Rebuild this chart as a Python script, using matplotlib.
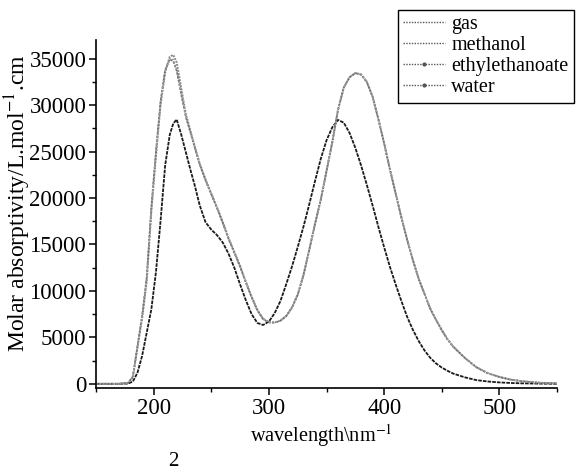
import matplotlib
matplotlib.use("Agg")
import matplotlib.pyplot as plt
from matplotlib.lines import Line2D
from matplotlib.ticker import MultipleLocator

plt.rcParams['font.family'] = ['Liberation Serif', 'DejaVu Serif']
plt.rcParams['mathtext.fontset'] = 'stix'

wavelength = [150, 170, 178, 182, 186, 190, 194, 198, 202, 206, 210, 214, 217, 220,
              224, 228, 232, 236, 240, 245, 250, 255, 260, 265, 270, 275, 280, 285,
              290, 295, 300, 305, 310, 315, 320, 325, 330, 335, 340, 345, 350, 355,
              360, 365, 370, 375, 380, 385, 390, 395, 400, 405, 410, 415, 420, 425,
              430, 435, 440, 445, 450, 455, 460, 470, 480, 490, 500, 510, 520, 535, 550]

gas = [0, 0, 30, 250, 1200, 3000, 5500, 8000, 12000, 17500, 23500, 26800, 28000, 28450,
       26800, 24900, 23000, 21200, 19200, 17400, 16600, 16000, 15200, 14000, 12500, 10700, 9000, 7500,
       6550, 6330, 6700, 7600, 8900, 10700, 12600, 14700, 16900, 19300, 21800, 24200, 26200, 27600,
       28400, 28100, 27000, 25400, 23500, 21400, 19200, 16900, 14700, 12600, 10700, 8900, 7200, 5800,
       4600, 3600, 2800, 2200, 1750, 1400, 1100, 700, 400, 250, 150, 90, 50, 20, 0]

methanol = [0, 0, 100, 700, 3900, 7000, 11000, 18500, 24500, 30000, 33500, 35200, 35400, 34600,
            31800, 29000, 27200, 25400, 23700, 22000, 20500, 19000, 17400, 15700, 14200, 12700, 11000, 9400,
            7960, 7000, 6650, 6600, 6800, 7300, 8200, 9600, 11700, 14400, 17200, 19800, 22900, 26000,
            29500, 31900, 33000, 33450, 33300, 32500, 30900, 28500, 25900, 23100, 20500, 17900, 15500, 13300,
            11300, 9700, 8100, 6900, 5800, 4800, 4000, 2800, 1800, 1150, 750, 450, 280, 120, 50]

ethylethanoate = [0, 0, 120, 800, 4100, 7300, 11500, 19000, 25000, 30400, 33800, 34900, 34750, 33700,
                  31100, 28700, 27000, 25300, 23600, 21900, 20400, 18900, 17300, 15600, 14100, 12600, 10900, 9300,
                  7900, 6950, 6600, 6580, 6780, 7280, 8180, 9580, 11680, 14380, 17180, 19780, 22880, 25980,
                  29480, 31880, 32980, 33430, 33280, 32480, 30880, 28480, 25880, 23080, 20480, 17880, 15480, 13280,
                  11280, 9680, 8080, 6880, 5780, 4780, 3980, 2780, 1780, 1130, 730, 440, 270, 110, 40]

water = [0, 0, 110, 750, 4000, 7200, 11300, 18800, 24800, 30200, 33700, 35000, 34900, 33900,
         31300, 28800, 27100, 25350, 23650, 21950, 20450, 18950, 17350, 15650, 14150, 12650, 10950, 9350,
         7930, 6980, 6630, 6590, 6790, 7290, 8190, 9590, 11690, 14390, 17190, 19790, 22890, 25990,
         29490, 31890, 32990, 33440, 33290, 32490, 30890, 28490, 25890, 23090, 20490, 17890, 15490, 13290,
         11290, 9690, 8090, 6890, 5790, 4790, 3990, 2790, 1790, 1140, 740, 445, 275, 115, 45]

series_names = ['gas', 'methanol', 'ethylethanoate', 'water']
series_data = [gas, methanol, ethylethanoate, water]

fig = plt.figure(figsize=(5.79, 4.72), dpi=100)
ax = fig.add_axes([96 / 579, 1 - 388 / 472, (557 - 96) / 579, (388 - 40) / 472])

styles = [
    dict(color='#1a1a1a', lw=1.3, ls=(0, (2, 0.6))),
    dict(color='#8a8a8a', lw=1.4, ls=(0, (1, 0.6))),
    dict(color='#6e6e6e', lw=1.2, ls=(0, (1.5, 0.8))),
    dict(color='#9c9c9c', lw=1.2, ls=(0, (1, 1))),
]
for name, ys, st in zip(series_names, series_data, styles):
    ax.plot(wavelength, ys, label=name, **st)

ax.set_xlim(150, 550)
ax.set_ylim(-450, 37000)
ax.xaxis.set_major_locator(MultipleLocator(100))
ax.xaxis.set_minor_locator(MultipleLocator(50))
ax.yaxis.set_major_locator(MultipleLocator(5000))
ax.yaxis.set_minor_locator(MultipleLocator(2500))
ax.spines['top'].set_visible(False)
ax.spines['right'].set_visible(False)
for s in ('left', 'bottom'):
    ax.spines[s].set_linewidth(1.2)
ax.tick_params(which='major', direction='out', length=5, width=1.1, labelsize=16.5, pad=2)
ax.tick_params(which='minor', direction='out', length=3, width=1.0)

fig.text(18 / 579, 1 - 203 / 472, r'Molar absorptivity/L.mol$^{-1}$.cm', rotation=90,
         ha='center', va='center', fontsize=17)
fig.text(321 / 579, 1 - 436 / 472, r'wavelength\nm$^{-1}$', ha='center', va='center', fontsize=14.6)
fig.text(173 / 579, 1 - 461 / 472, '2', ha='center', va='center', fontsize=15)

handles = [
    Line2D([], [], color='#555555', lw=1.0, ls=(0, (1, 1))),
    Line2D([], [], color='#555555', lw=1.0, ls=(0, (1, 1))),
    Line2D([], [], color='#555555', lw=1.0, ls=(0, (1, 1)), marker='.', markersize=4),
    Line2D([], [], color='#555555', lw=1.0, ls=(0, (1, 1)), marker='.', markersize=4),
]
leg = ax.legend(handles, series_names, loc='upper left',
                bbox_to_anchor=(398 / 579, 1 - 10 / 472), bbox_transform=fig.transFigure,
                fontsize=14.5, frameon=True, fancybox=False, edgecolor='black', framealpha=1,
                labelspacing=0.1, handlelength=2.1, handletextpad=0.3, borderpad=0.25,
                borderaxespad=0, numpoints=1)
leg.get_frame().set_linewidth(1.0)

fig.savefig('out.png', dpi=100)
